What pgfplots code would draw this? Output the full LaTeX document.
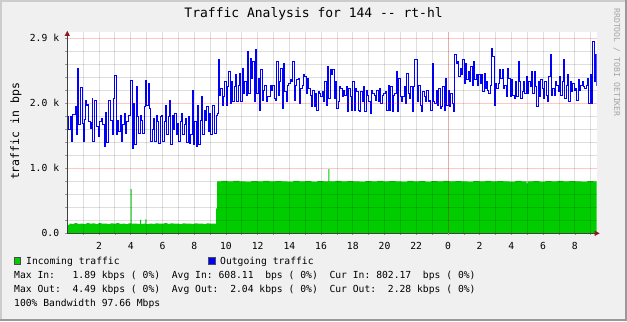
\documentclass[border=0pt]{standalone}
\usepackage{fontspec}
\usepackage{pgfplots}
\pgfplotsset{compat=1.18}
\usetikzlibrary{arrows.meta}
\newfontfamily\mono{DejaVu Sans Mono}
\definecolor{bgc}{HTML}{F0F0F0}
\definecolor{inc}{HTML}{00CC00}
\definecolor{outc}{HTML}{0000FF}
\definecolor{arrowc}{HTML}{8B1A1A}
\newcommand{\lf}{\mono\fontsize{9.7bp}{11bp}\selectfont}
\begin{document}
\begin{tikzpicture}[x=1bp,y=1bp]
\fill[bgc] (0,0) rectangle (627,321);
\draw[color=black!20, line width=2bp] (1,0) -- (1,320) -- (627,320);
\draw[color=black!40, line width=2bp] (0,1) -- (626,1) -- (626,321);
\begin{axis}[
  at={(67.3bp,87.7bp)}, anchor=south west,
  x=1bp, y=0.065bp,
  xmin=0, xmax=529.4, ymin=0, ymax=3100,
  axis lines=left,
  axis line style={draw=black!75, line width=0.9bp, -{Triangle[length=5bp,width=5bp,color=arrowc]}},
  x axis line style={shorten >=-3bp},
  y axis line style={shorten >=-1bp},
  axis background/.style={fill=white},
  axis on top,
  xtick={31.72,63.44,95.16,126.88,158.6,190.32,222.04,253.76,285.48,317.2,348.92,380.64,412.36,444.08,475.8,507.52},
  xticklabels={2,4,6,8,10,12,14,16,18,20,22,0,2,4,6,8},
  minor xtick={15.86,47.58,79.3,111.02,142.74,174.46,206.18,237.9,269.62,301.34,333.06,364.78,396.5,428.22,459.94,491.66,523.38},
  ytick={0,1000,2000,3000},
  yticklabels={0.0,1.0 k,2.0 k,2.9 k},
  minor ytick={200,400,600,800,1200,1400,1600,1800,2200,2400,2600,2800},
  grid=both,
  major x grid style={draw=black, opacity=0.13, line width=0.8bp},
  minor x grid style={draw=black, opacity=0.13, line width=0.8bp},
  major y grid style={draw=red, opacity=0.22, line width=0.8bp},
  minor y grid style={draw=black, opacity=0.13, line width=0.8bp},
  extra x ticks={380.64}, extra x tick labels={},
  extra x tick style={major x grid style={draw=red, opacity=0.22, line width=0.8bp}},
  tick align=outside, major tick length=2bp, minor tick length=2bp,
  tick style={black!40, line width=0.6bp},
  xticklabel style={font=\lf, anchor=center, inner sep=0pt, yshift=-10.7bp},
  yticklabel style={font=\lf, anchor=east, inner sep=0pt, xshift=-6bp},
]
\addplot[const plot, fill=inc, draw=none] coordinates {
(0,130)(2,150)(4,145)(7,155)(10,145)(13,150)(16,140)(19,155)(22,148)(25,152)(28,143)(31,155)(34,147)(37,150)(40,142)(43,153)(46,148)(49,155)(52,145)(55,150)(58,143)(61,152)(63.4,681)(64.4,148)(67,150)(70,145)(72.7,205)(73.7,145)(76,150)(78,215)(79,140)(82,150)(85,145)(88,153)(91,147)(94,150)(97,158)(100,145)(103,152)(106,147)(109,150)(112,143)(115,153)(118,148)(121,150)(124,144)(127,152)(130,148)(133,150)(136,143)(139,152)(142,147)(145,150)(148.7,385)(149.7,800)
(154,805)(160,798)(166,806)(172,800)(178,795)(184,804)(190,800)(196,807)(202,798)(208,803)(214,800)(220,796)(226,805)(232,800)(238,804)(244,797)(250,802)(256,800)(261,989)(262,800)(268,805)(274,798)(280,803)(286,800)(292,795)(298,804)(304,800)(310,806)(316,798)(322,803)(328,800)(334,796)(340,805)(346,800)(352,804)(358,797)(364,802)(370,800)(376,806)(382,798)(388,803)(394,800)(400,795)(406,804)(412,800)(418,806)(424,798)(430,803)(436,800)(442,796)(448,805)(454,800)(459.3,769)(460.3,800)(466,804)(472,797)(478,802)(484,800)(490,806)(496,798)(502,803)(508,800)(514,795)(520,804)(526,800)(529.4,800)
} \closedcycle;
\addplot[const plot, draw=outc, line width=1bp] coordinates {
(0,1795)(1.4,1590)(2.7,1800)(4,1410)(5.3,1830)(6.7,1830)(8,1950)(8.7,1513)(10,2540)(11.4,1677)(12.7,1700)(13.4,2240)(14.7,1692)(16,1410)(17.3,1750)(18,2041)(18.7,1974)(20,1980)(20.7,1950)(21.4,1718)(22.7,1615)(24,1700)(24.7,2077)(25.4,1410)(26.7,1846)(27.4,2036)(28.7,1800)(29.4,1641)(30.7,1487)(32,1718)(34,1769)(35.4,1667)(36.7,1333)(38,1861)(39.4,1400)(40.7,2051)(42,2051)(43.4,1743)(44.7,1513)(46,2067)(47.4,2421)(48.7,1513)(50,1743)(51.4,1564)(52.7,1820)(54,1420)(55.4,1667)(56.7,1836)(58,1538)(59.4,1728)(60.7,1820)(62,1820)(63.4,2354)(64.7,1307)(66,2000)(67.4,1359)(68.7,2256)(70,1795)(71.4,1538)(72.7,1820)(74,1743)(75.4,1538)(76.7,1950)(78,2344)(79.4,1974)(80.7,2308)(82,1923)(83.4,1420)(84.7,1590)(86,1769)(87.4,1410)(88.7,1820)(90,1718)(91.4,1384)(92.7,1795)(94,1820)(95.4,1410)(96.7,1718)(98,1959)(99.4,1513)(100.7,1795)(102,2036)(103.4,1359)
(104.7,1820)(106,1590)(107.4,1836)(108.7,1513)(110,1692)(111.4,1410)(112.7,1718)(114,1846)(115.4,1513)(116.7,1667)(118,1769)(119.4,1400)(120.7,1795)(122,1384)(123.4,1513)(124.7,2205)(126,1359)(127.4,1718)(128.7,1333)(130,1974)(131.4,1359)(132.7,1743)(134,2103)(135.4,1513)(136.7,1897)(138,1743)(139.4,1949)(140.7,1564)(142,1846)(143.4,1513)(144.7,1974)(146,1974)(147.4,1538)(148.7,1820)(150,1846)(150.7,2667)(152,2128)(153.4,2231)(154.7,1974)(156,2103)(157.4,2333)(158.7,1974)(160,2256)(161.4,2487)(162.7,2000)(164,2333)(165.4,2026)(166.7,2256)(168,2436)(169.4,2026)(170.7,2282)(172,2462)(173.4,2026)(174.7,2539)(176,2154)(177.4,2333)(178.7,2128)(180,2795)(181.4,2154)(182.7,2693)(184,2385)(185.4,2641)(186.7,2026)(188,2821)(189.4,2154)(190.7,2385)(192,1897)(193.4,2513)(194.7,2051)(196,2205)(197.4,2282)(198.7,2026)(200,2103)(201.4,2103)(202.7,2282)(204,2205)(205.4,2282)(206.7,2077)
(208,2051)(209.4,2641)(210.7,2128)(212,2333)(213.4,2539)(214.7,1923)(216,2616)(217.4,2180)(218.7,2026)(220,2282)(221.4,2308)(222.7,2359)(224,2333)(225.4,2641)(226.7,2051)(228,2282)(229.4,2359)(230.7,2385)(232,2000)(233.4,2231)(234.7,2282)(236,2436)(237.4,2410)(238.7,2154)(240,2385)(241.4,2231)(242.7,2128)(244,1949)(245.4,2205)(246.7,1949)(248,2154)(249.4,1897)(250.7,2180)(252,2154)(253.4,2103)(254.7,2180)(256,2026)(257.4,2333)(258.7,1974)(260,2564)(261.4,2077)(262.7,2513)(264,2436)(265.4,2513)(266.7,2077)(268,2333)(269.4,1923)(270.7,2026)(272,2256)(273.4,2231)(274.7,2103)(276,2205)(277.4,2128)(278.7,2256)(280,1872)(281.4,2231)(282.7,2103)(284,1897)(285.4,2333)(286.7,1897)(288,2231)(289.4,2180)(290.7,1897)(292,1872)(293.4,2180)(294.7,2026)(296,2256)(297.4,1872)(298.7,2205)(300,2128)(301.4,2026)(302.7,1846)(304,2205)(305.4,2154)(306.7,2128)(308,2051)(309.4,2205)(310.7,2026)(312,2231)(313.4,2000)(314.7,2128)(316,2154)
(318,2180)(319.4,1897)(320.7,2282)(322,1897)(323.4,2256)(324.7,1872)(326,2128)(327.4,2154)(328.7,2487)(330,1872)(331.4,2385)(332.7,2103)(334,2026)(335.4,2103)(336.7,2256)(338,2000)(339.4,2462)(340.7,2154)(342,2077)(343.4,2256)(344.7,1872)(346,2256)(347.4,2667)(348.7,2667)(350,2026)(351.4,2282)(352.7,1974)(354,1872)(355.4,2180)(356.7,2103)(358,2026)(359.4,2205)(360.7,2026)(362,2051)(363.4,1897)(364.7,2616)(366,2026)(367.4,2000)(368.7,2205)(370,1974)(371.4,2231)(372.7,1923)(374,1949)(375.4,2256)(376.7,1897)(378,2385)(379.4,1974)(380.7,2205)(382,1949)(383.4,2154)(384.7,2000)(386,1872)(387.4,2744)(388.7,2616)(390,2641)(391.4,2410)(392.7,2539)(394,2436)(395.4,2667)(396.7,2308)(398,2616)(399.4,2359)(400.7,2487)(402,2333)(403.4,2564)(404.7,2282)(406,2641)(407.4,2359)(408.7,2436)(410,2282)(411.4,2436)(412.7,2308)(414,2436)(415.4,2180)(416.7,2462)(418,2231)(419.4,2333)
(420,2205)(421.4,2154)(422.7,2282)(424,2846)(425.4,2718)(426.7,1974)(428,2308)(429.4,2231)(430.7,2308)(432,2513)(433.4,2385)(434.7,2513)(436,2231)(437.4,2282)(438.7,2103)(440,2539)(441.4,2385)(442.7,2103)(444,2359)(445.4,2128)(446.7,2077)(448,2333)(449.4,2103)(450.7,2641)(452,2333)(453.4,2077)(454.7,2180)(456,2333)(457.4,2154)(458.7,2410)(460,2154)(461.4,2333)(462.7,2256)(464,2487)(465.4,2154)(466.7,2487)(468,2256)(469.4,1949)(470.7,2333)(472,2103)(473.4,2359)(474.7,2231)(476,2077)(477.4,2333)(478.7,2128)(480,2026)(481.4,2410)(482.7,2744)(484,2128)(485.4,2231)(486.7,2128)(488,2333)(489.4,2282)(490.7,2180)(492,2410)(493.4,2128)(494.7,2333)(496,2667)(497.4,2077)(498.7,2282)(500,2436)(501.4,2026)(502.7,2333)(504,2180)(505.4,2308)(506.7,2205)(508,2231)(509.4,2051)(510.7,2359)(512,2205)(513.4,2282)(514.7,2333)(516,2256)(517.4,2231)(518.7,2282)(520,2385)(521.4,2000)(522.7,2436)(524,2000)(525.4,2949)(526.7,2333)(528,2744)(528.7,2280)(529.4,2280)
};
\end{axis}
\node[font=\mono\fontsize{13bp}{15bp}\selectfont] at (313.6,307) {Traffic Analysis for 144 -{}- rt-hl};
\node[rotate=90, font=\mono\fontsize{11.5bp}{13bp}\selectfont] at (16,189.5) {traffic in bps};
\node[rotate=-90, font=\mono\fontsize{8.2bp}{9bp}\selectfont, text=black!35] at (616.7,258.5) {RRDTOOL / TOBI OETIKER};
\filldraw[fill=inc, draw=black!70, line width=0.5bp] (14,56.7) rectangle (20.7,63.3);
\node[font=\lf, anchor=base west, inner sep=0pt] at (26,56.5) {Incoming~traffic};
\filldraw[fill=outc, draw=black!70, line width=0.5bp] (208.3,56.7) rectangle (215,63.3);
\node[font=\lf, anchor=base west, inner sep=0pt] at (220,56.5) {Outgoing~traffic};
\node[font=\lf, anchor=base west, inner sep=0pt] at (14,42.5) {Max~In:~~~1.89~kbps~(~0\%)~~Avg~In:~608.11~~bps~(~0\%)~~Cur~In:~802.17~~bps~(~0\%)};
\node[font=\lf, anchor=base west, inner sep=0pt] at (14,28.5) {Max~Out:~~4.49~kbps~(~0\%)~~Avg~Out:~~2.04~kbps~(~0\%)~~Cur~Out:~~2.28~kbps~(~0\%)};
\node[font=\lf, anchor=base west, inner sep=0pt] at (14,14.2) {100\%~Bandwidth~97.66~Mbps};
\pgfresetboundingbox
\useasboundingbox (0,0) rectangle (627,321);
\end{tikzpicture}
\end{document}
